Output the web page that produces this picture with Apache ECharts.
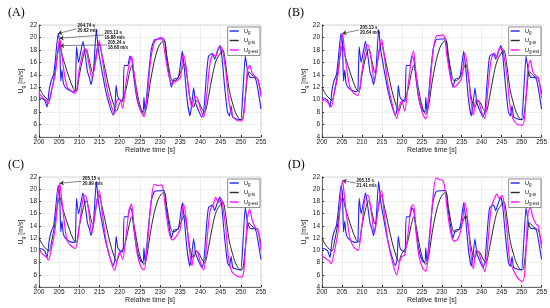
<!DOCTYPE html>
<html><head><meta charset="utf-8">
<script src="https://cdn.jsdelivr.net/npm/echarts@6/dist/echarts.min.js"></script>
<style>html,body{margin:0;padding:0;background:#fff}#c{width:550px;height:308px}</style>
</head><body><div id="c"></div>
<script>
// ---- data ----
const panelLabels = ['(A)', '(B)', '(C)', '(D)'];
const xTicks = { min: 200, max: 255, step: 5 };
const yTicks = { min: 4, max: 22, step: 2 };

// U_g (measured) - same in all panels
const tG = [200,200.8,201.5,202,202.5,203,203.6,204,204.74,205.1,205.4,205.7,206,206.5,207.5,208.5,209,209.3,209.8,210.9,211.5,212,212.5,212.9,213.5,214.2,214.7,215.5,216.5,217.5,218.4,218.8,219.1,219.5,220,220.8,221.1,222,222.5,223,223.5,224.3,225.2,225.8,226,226.3,227,227.8,228.5,229,231,231.5,232.2,232.8,233.4,234.5,235,235.5,236,236.7,237.4,237.8,238.3,238.8,239.5,240.3,240.8,241.5,242,243,243.5,244.2,244.8,245.3,246,246.7,247.2,247.6,248,249,250,250.5,251.1,251.7,252.3,253.5,254,255];
const uG = [10.3,10.2,9.8,8.8,11.5,13,14,16,20.62,19.5,13,14.8,12.8,12,11.5,11.3,11.5,18.5,16,19.4,17,14.5,13.5,12.4,14.5,21.3,18,15,11.5,9,7.5,8.5,12.3,10.5,10,9.7,15.5,15.5,17,16.5,13.5,10,8.2,8,10.4,8,13,18,19.5,19.7,19.8,17,14,12,13.3,13.5,15.5,17.8,15,10,7.4,9,11.9,9.5,8.3,7.2,8,14,17,17.4,16.5,17.8,18.7,17,12,8,7.4,9,7.2,6.9,6.8,11,17,14.5,13.6,13.5,12.5,8.5];

// U_g-is - same in all panels
const tIs = [200,201,202,202.5,203,204,204.8,205.2,205.8,206.5,207.5,208.5,209.2,210,211,211.7,212.4,213.3,214,214.8,215.5,216.5,217.5,218.5,219.2,220,220.8,221.5,222.3,223,223.7,224.5,225.3,226,226.7,227.5,228.5,229.5,230.3,231,231.7,232.5,233.2,234.2,235.2,236,236.7,237.5,238.3,239,239.6,240.3,241,242,243,244,245,245.5,246.2,247,248,249,250,250.5,251.2,252,252.7,253.5,254.2,255];
const uIs = [12,10.8,10.1,9.9,11,14.5,18.2,18.6,17,15.5,13.5,11.8,11.3,14,17,18.1,16.5,14.3,16.5,19.1,17.5,14.5,11.5,9.2,8.2,9.5,10.2,11.5,14,15.5,13.5,10.5,8.5,7.7,9,12.5,16,18.3,19.2,19.5,17,14,13,13.3,14.6,15.7,13.5,10,8.8,9.8,9.6,8.6,8,10.5,14,16.5,17.5,18,16,12,9.3,7.5,6.8,7,11,14.5,14,13.6,13.3,11];

// U_g-est - one per panel
const tEst = [200,201,201.8,202.3,203,204,204.6,205.13,205.6,206.2,207,208,209,210,211,211.5,212.3,213.1,214,214.9,215.6,216.5,217.5,218.7,219.4,220,220.7,221.5,222.3,222.9,223.5,224.3,225.3,226,226.8,227.7,228.6,229.5,230.3,230.7,231.3,232.2,233,234,235,235.8,236.5,237.2,237.9,238.6,239.2,240,240.8,241.6,242.4,243.2,243.8,244.4,245.1,245.6,246.3,247,247.8,249,250.2,250.8,251.6,252.2,252.8,253.6,254.2,255];
const uEstA = [11,10.3,9.8,9.3,11.3,14,17.5,19.88,17.5,14.5,12,11.4,11,15,17.8,18.2,16,13.5,16,19.5,17,13,10,7.8,10,10,8.6,12.5,15.5,17,14.5,10.5,8,7.3,10.5,16.5,19.3,19.8,20,19.5,17,13.8,12.5,13,13.5,17.3,15,11,8.8,10.5,10.3,8.5,7.2,11,16,17.2,17,18.2,18.5,17.5,14.5,10,7.5,6.7,6.6,8,14.5,15.5,14.3,13.7,13.3,10.5];
const uEstB = [10,9.8,9.3,8.8,10.8,14,18,20.64,18,15,12,11,10.7,14.5,18.5,18.8,16.5,13,16.5,19.7,17,12.5,9.5,7,9,9.8,8.2,12,16,17.8,14.5,10,7.6,6.9,10.5,17,20.2,20.3,20.4,20,17,13.5,12,12.5,13.5,17.5,15,10.5,7.5,10,9.8,8,7,12,16.5,17.5,16.8,18.2,18.3,17,14,9.5,7,6,5.9,7.5,15,16.3,14.5,13.8,13.5,10.2];
const uEstC = [10,9.3,8.9,8.4,10,13.5,18,20.99,18.5,15,11.5,10.7,10.3,14,18.8,19,16.5,12.8,16.5,19.8,16.5,12,9,6.7,8.5,9.8,8.5,12,16.5,17.6,14,9.5,7.2,6.8,10.5,17.5,20.8,20.6,20.7,20.3,17,13,11.7,12.3,13.5,17.6,15,10.5,7.5,10,9.8,8,6.8,11.5,16.5,17.5,18.7,17.8,18.5,17,13.5,8.5,6.5,5.8,5.6,7,15,16.7,15,13.7,13.5,10];
const uEstD = [9.2,8.6,8.3,7.8,9.5,13,18,21.41,19,15.5,12,10.5,10,14,19,19,16.5,12.8,16.5,19.8,16,11.5,8.5,6,8,9,9.2,12.5,17,17.5,13.5,9,7,6.6,10.5,18,21.8,21.6,21.4,20.5,17,13,11.5,11.8,14,17.8,15,10,7,10,9.8,8,6.5,11.5,17,18.5,19.2,18.5,19,17.5,13.5,8.5,7,5.5,4.9,6.5,16,17,15.5,14.3,14,10.3];
const estSets = [uEstA, uEstB, uEstC, uEstD];

// annotated peaks [time, value, series] per panel
const peaksA = [[204.74, 20.62, 'Ug'], [205.13, 19.88, 'Ugest'], [205.24, 18.68, 'Ugis']];
const peaksB = [[205.13, 20.64, 'Ugest']];
const peaksC = [[205.15, 20.99, 'Ugest']];
const peaksD = [[205.15, 21.41, 'Ugest']];
const peakSets = [peaksA, peaksB, peaksC, peaksD];
// where the note text sits (layout only)
const noteAt = [
  [[209.3, 21.4], [216.0, 20.4], [216.8, 18.8]],
  [[209.3, 21.2]],
  [[210.5, 21.3]],
  [[208.4, 21.0]]
];

// ---- layout ----
const grids = [
  { left: 39, top: 25, width: 222, height: 112 },
  { left: 322, top: 25, width: 220, height: 112 },
  { left: 39, top: 177, width: 222, height: 110 },
  { left: 322, top: 177, width: 220, height: 110 }
];
const zip = (t, v) => t.map((x, i) => [x, v[i]]);
const colors = { Ug: '#1f1fff', Ugis: '#2a2a2a', Ugest: '#ff10ff' };
const legendRich = {
  m: { fontSize: 6, fontFamily: 'Liberation Sans', color: '#111' },
  s: { fontSize: 4.5, fontFamily: 'Liberation Sans', color: '#111', padding: [4, 0, 0, 0] }
};
const nameRich = {
  m: { fontSize: 7, fontFamily: 'Liberation Sans', color: '#222' },
  s: { fontSize: 5, fontFamily: 'Liberation Sans', color: '#222', padding: [4, 0, 0, 0] }
};
const legendFmt = n => n === 'Ug' ? '{m|U}{s|g}' : n === 'Ugis' ? '{m|U}{s|g-is}' : '{m|U}{s|g-est}';

const option = {
  animation: false,
  backgroundColor: '#fff',
  title: panelLabels.map((t, i) => ({
    text: t, left: (i % 2 ? 283 : 3), top: (i < 2 ? 2 : 154),
    textStyle: { fontFamily: 'Liberation Serif', fontWeight: 'normal', fontSize: 12, color: '#000' }
  })),
  grid: grids.map(g => Object.assign({ show: true, borderColor: '#bbb', borderWidth: 0.6, containLabel: false }, g)),
  legend: grids.map((g, i) => ({
    orient: 'vertical',
    right: 550 - g.left - g.width + 1, top: g.top + 2,
    data: ['Ug', 'Ugis', 'Ugest'],
    formatter: legendFmt,
    textStyle: { rich: legendRich },
    icon: 'rect',
    itemWidth: 9, itemHeight: 1.4, itemGap: 2,
    padding: [1, 2, 1, 2],
    borderColor: '#444', borderWidth: 0.6, backgroundColor: '#fff',
    selectedMode: false
  })),
  xAxis: grids.map((g, i) => ({
    gridIndex: i, type: 'value', min: xTicks.min, max: xTicks.max, interval: xTicks.step,
    name: 'Relative time [s]', nameLocation: 'middle', nameGap: 9,
    nameTextStyle: { fontSize: 7, fontFamily: 'Liberation Sans', color: '#222' },
    axisLine: { lineStyle: { color: '#333', width: 0.7 } },
    axisTick: { inside: true, length: 2, lineStyle: { color: '#333' } },
    axisLabel: { fontSize: 6.5, margin: 2, color: '#222', fontFamily: 'Liberation Sans' },
    splitLine: { show: true, lineStyle: { color: '#e3e3e3', width: 0.6 } }
  })),
  yAxis: grids.map((g, i) => ({
    gridIndex: i, type: 'value', min: yTicks.min, max: yTicks.max, interval: yTicks.step,
    name: '{m|U}{s|g}{m| [m/s]}', nameLocation: 'middle', nameGap: 5,
    nameTextStyle: { rich: nameRich },
    axisLine: { show: true, lineStyle: { color: '#333', width: 0.7 } },
    axisTick: { show: true, inside: true, length: 2, lineStyle: { color: '#333' } },
    axisLabel: { fontSize: 6.5, margin: 2, color: '#222', fontFamily: 'Liberation Sans' },
    splitLine: { show: true, lineStyle: { color: '#e3e3e3', width: 0.6 } }
  })),
  series: []
};

function notes(i, key) {
  const list = [];
  peakSets[i].forEach((p, k) => {
    if (p[2] !== key) return;
    const end = noteAt[i][k];
    list.push([
      { coord: [p[0], p[1]] },
      { coord: end,
        label: { show: true, position: 'end', distance: 1,
          formatter: p[0].toFixed(2) + ' s\n' + p[1].toFixed(2) + ' m/s',
          fontSize: 4.5, fontWeight: 'bold', lineHeight: 5, color: '#111', fontFamily: 'Liberation Sans' } }
    ]);
  });
  return list;
}

for (let i = 0; i < 4; i++) {
  const defs = [
    ['Ug', zip(tG, uG), 1.1, 0.15],
    ['Ugis', zip(tIs, uIs), 1.0, 0.35],
    ['Ugest', zip(tEst, estSets[i]), 1.2, 0.3]
  ];
  defs.forEach(([name, data, w, sm]) => {
    const ml = notes(i, name);
    option.series.push({
      name, type: 'line', xAxisIndex: i, yAxisIndex: i, data,
      symbol: 'none', smooth: sm,
      lineStyle: { color: colors[name], width: w }, itemStyle: { color: colors[name] },
      markLine: ml.length ? {
        silent: true, symbol: ['arrow', 'none'], symbolSize: 4,
        lineStyle: { color: '#333', width: 0.6, type: 'solid' },
        label: { show: false }, data: ml
      } : undefined
    });
  });
}

const chart = echarts.init(document.getElementById('c'), null, { renderer: 'canvas' });
chart.setOption(option);
</script>
</body></html>
